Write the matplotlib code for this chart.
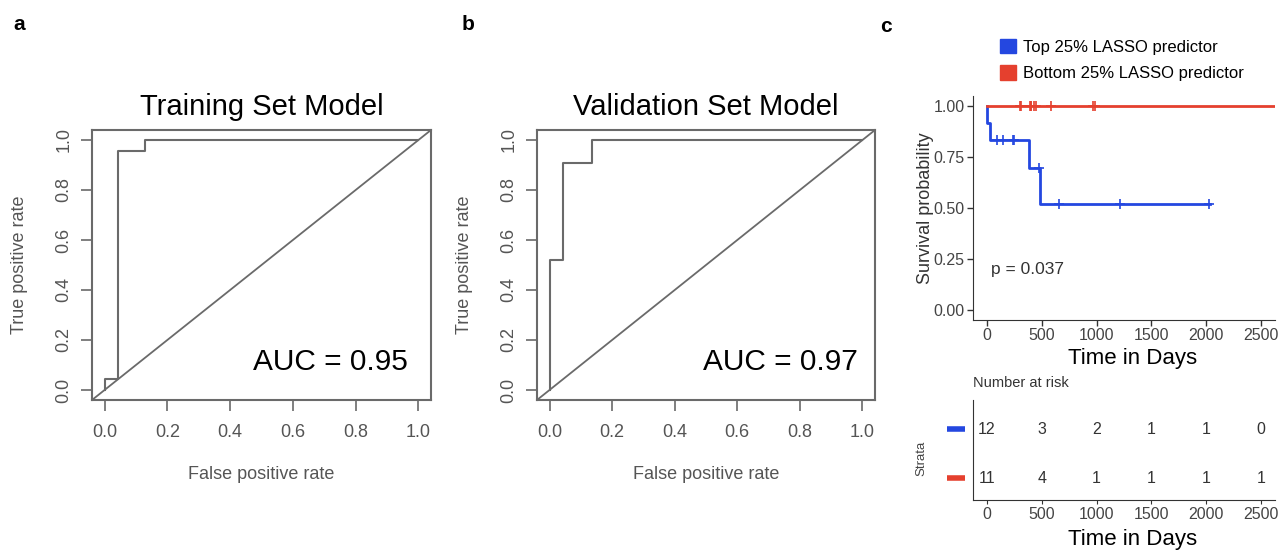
"""ROC curves for the LASSO model plus Kaplan-Meier split by predictor quartile."""
import numpy as np
import matplotlib
matplotlib.use("Agg")
import matplotlib.pyplot as plt
from matplotlib.patches import Patch
from matplotlib.transforms import blended_transform_factory

plt.rcParams["font.family"] = ["Liberation Sans", "DejaVu Sans"]

# ROC curves (false positive rate, true positive rate)
train_fpr = [0.0, 0.0, 0.043, 0.043, 0.13, 0.13, 1.0]
train_tpr = [0.0, 0.045, 0.045, 0.955, 0.955, 1.0, 1.0]
valid_fpr = [0.0, 0.0, 0.043, 0.043, 0.135, 0.135, 1.0]
valid_tpr = [0.0, 0.52, 0.52, 0.91, 0.91, 1.0, 1.0]
train_auc = 0.95
valid_auc = 0.97
roc_ticks = [0.0, 0.2, 0.4, 0.6, 0.8, 1.0]

# Kaplan-Meier step curves (time in days, survival probability)
top_times = [0, 6, 27, 382, 485, 2030]
top_surv = [1.0, 0.917, 0.833, 0.694, 0.521, 0.521]
top_censor = [90, 145, 235, 250, 480, 655, 1210, 2020]
bottom_times = [0, 2620]
bottom_surv = [1.0, 1.0]
bottom_censor = [300, 315, 391, 400, 406, 427, 451, 588, 966, 982]
p_value = 0.037
km_yticks = [0.0, 0.25, 0.5, 0.75, 1.0]

# number at risk table
risk_times = [0, 500, 1000, 1500, 2000, 2500]
risk_top = [12, 3, 2, 1, 1, 0]
risk_bottom = [11, 4, 1, 1, 1, 1]

ROC_GRAY = "#6a6a6a"
LABEL_GRAY = "#555555"
BLUE = "#2447e0"
RED = "#e5402e"
W, H = 1288, 551


def px_axes(fig, left, top, right, bottom):
    return fig.add_axes([left / W, 1 - bottom / H, (right - left) / W, (bottom - top) / H])


def draw_roc(ax, fpr, tpr, title, auc, auc_x):
    ax.plot(fpr, tpr, color=ROC_GRAY, lw=1.5)
    ax.axline((0, 0), slope=1, color=ROC_GRAY, lw=1.3)
    ax.set_xlim(-0.04, 1.04)
    ax.set_ylim(-0.04, 1.04)
    ax.set_xticks(roc_ticks)
    ax.set_yticks(roc_ticks)
    ax.set_xticklabels([f"{t:.1f}" for t in roc_ticks])
    ax.set_yticklabels([f"{t:.1f}" for t in roc_ticks], rotation=90, va="center")
    ax.tick_params(direction="out", length=8, width=1.2, color=ROC_GRAY,
                   labelsize=13, labelcolor=LABEL_GRAY)
    ax.tick_params(axis="x", pad=9)
    ax.tick_params(axis="y", pad=6)
    for sp in ax.spines.values():
        sp.set_color(ROC_GRAY)
        sp.set_linewidth(1.5)
    ax.set_title(title, fontsize=21, pad=11)
    ax.set_xlabel("False positive rate", fontsize=13, color=LABEL_GRAY)
    ax.set_ylabel("True positive rate", fontsize=13, color=LABEL_GRAY)
    ax.xaxis.set_label_coords(0.5, -0.245)
    ax.yaxis.set_label_coords(-0.19, 0.5)
    ax.text(auc_x, 0.11, f"AUC = {auc:.2f}", fontsize=21.5, ha="right", va="center")


fig = plt.figure(figsize=(W / 100, H / 100), dpi=100)

ax_a = px_axes(fig, 92, 130, 431, 400)
draw_roc(ax_a, train_fpr, train_tpr, "Training Set Model", train_auc, 0.965)
ax_b = px_axes(fig, 537, 130, 875, 400)
draw_roc(ax_b, valid_fpr, valid_tpr, "Validation Set Model", valid_auc, 0.985)

# survival curves
ax_km = px_axes(fig, 973, 96, 1275, 320)
for times, surv, cens, col in [(top_times, top_surv, top_censor, BLUE),
                               (bottom_times, bottom_surv, bottom_censor, RED)]:
    ax_km.step(times, surv, where="post", color=col, lw=2)
    idx = np.searchsorted(times, cens, side="right") - 1
    ax_km.plot(cens, np.asarray(surv)[idx], ls="none", marker="+", ms=7, mew=1.2, color=col)
ax_km.set_xlim(-125, 2625)
ax_km.set_ylim(-0.05, 1.05)
ax_km.set_xticks(risk_times)
ax_km.set_yticks(km_yticks)
ax_km.set_yticklabels([f"{t:.2f}" for t in km_yticks])
ax_km.tick_params(length=4, width=1, color="#333333", labelsize=11.5, labelcolor="#444444", pad=2)
for side in ["top", "right"]:
    ax_km.spines[side].set_visible(False)
for side in ["left", "bottom"]:
    ax_km.spines[side].set_color("#333333")
ax_km.set_ylabel("Survival probability", fontsize=13, color="#333333")
ax_km.yaxis.set_label_coords(-0.128, 0.5)
ax_km.set_xlabel("Time in Days", fontsize=16)
ax_km.xaxis.set_label_coords(0.53, -0.125)
ax_km.text(40, 0.2, f"p = {p_value}", fontsize=12.5, color="#333333", va="center")

fig.legend(handles=[Patch(color=BLUE), Patch(color=RED)],
           labels=["Top 25% LASSO predictor", "Bottom 25% LASSO predictor"],
           loc="upper left", bbox_to_anchor=(1000 / W, 1 - 39 / H), frameon=False,
           fontsize=12, handlelength=0.95, handleheight=0.95, handletextpad=0.45,
           labelspacing=0.62, borderpad=0, borderaxespad=0)

# number at risk table
ax_rt = px_axes(fig, 973, 400, 1275, 500)
key = blended_transform_factory(ax_rt.transAxes, ax_rt.transData)
for row, counts, col in [(2, risk_top, BLUE), (1, risk_bottom, RED)]:
    for t, n in zip(risk_times, counts):
        ax_rt.text(t, row, str(n), ha="center", va="center", fontsize=11.5, color="#333333")
    ax_rt.plot([-0.087, -0.027], [row, row], transform=key, clip_on=False,
               color=col, lw=4, solid_capstyle="butt")
ax_rt.set_xlim(-125, 2625)
ax_rt.set_ylim(0.55, 2.6)
ax_rt.set_xticks(risk_times)
ax_rt.set_yticks([])
ax_rt.tick_params(axis="x", length=3, color="#333333", labelsize=11.5, labelcolor="#444444", pad=2)
for side in ["top", "right"]:
    ax_rt.spines[side].set_visible(False)
for side in ["left", "bottom"]:
    ax_rt.spines[side].set_color("#333333")
ax_rt.set_xlabel("Time in Days", fontsize=16)
ax_rt.xaxis.set_label_coords(0.53, -0.29)
ax_rt.set_ylabel("Strata", fontsize=9.5, color="#444444")
ax_rt.yaxis.set_label_coords(-0.15, 0.42)
ax_rt.text(0, 1.17, "Number at risk", transform=ax_rt.transAxes, fontsize=10.5,
           color="#333333", va="center")

for letter, x, y in [("a", 13, 24), ("b", 462, 24), ("c", 880, 27)]:
    fig.text(x / W, 1 - y / H, letter, fontsize=15, fontweight="bold", va="center")

fig.savefig("out.png", dpi=100)
